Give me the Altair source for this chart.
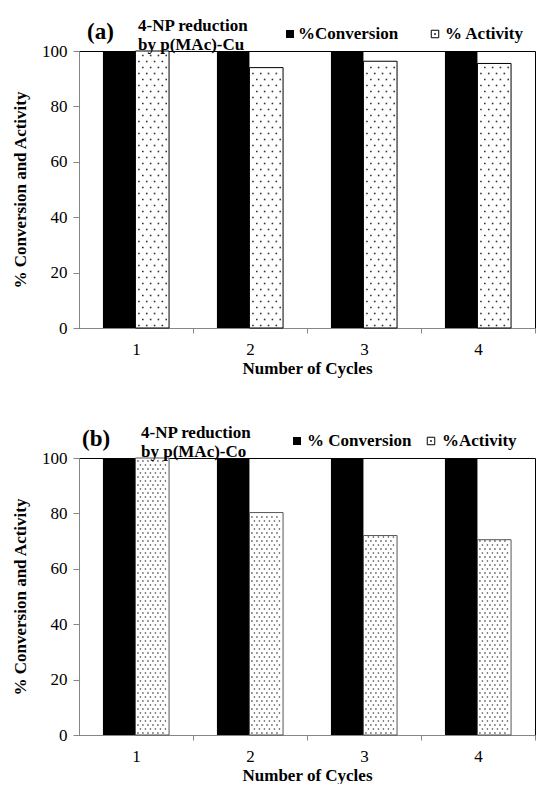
import altair as alt
import pandas as pd

# ---------------- data ----------------
cycles = [1, 2, 3, 4]
conversion_a = [100, 100, 100, 100]
activity_a = [100, 94.0, 96.3, 95.5]
conversion_b = [100, 100, 100, 100]
activity_b = [100, 80.3, 72.0, 70.5]

y_ticks = [0, 20, 40, 60, 80, 100]
series = ["%Conversion", "% Activity"]

FONT = "'Liberation Serif', 'Times New Roman', Times, serif"
H = 277
W = 456
BAR_L = -0.29
BAR_M = -0.005
BAR_R = 0.29


def bars_frame(conv, act):
    rows = []
    for c, v in zip(cycles, conv):
        rows.append({"cycle": c, "value": v, "series": "conv"})
    for c, v in zip(cycles, act):
        rows.append({"cycle": c, "value": v, "series": "act"})
    return pd.DataFrame(rows)


def dots_frame(act, sx, sy, x0, y0, width):
    ux = 4.0 / width
    uy = 100.0 / H
    bar_px = (BAR_R - BAR_M) / ux
    rows = []
    for c, v in zip(cycles, act):
        r = 0
        while True:
            yy = (y0 + r * sy) * uy
            if yy > v - 1.2 * uy:
                break
            shift = (r % 2) * sx / 2.0
            k = 0
            while True:
                xp = x0 + shift + k * sx
                if xp > bar_px - 1.5:
                    break
                rows.append({"dx": c + BAR_M + xp * ux, "dy": yy})
                k += 1
            r += 1
    return pd.DataFrame(rows)


def text_layer(t, x, y, size, weight="bold", align="left"):
    return alt.Chart(pd.DataFrame({"t": [t]})).mark_text(
        align=align, baseline="middle", font=FONT, fontSize=size,
        fontWeight=weight, color="black", lineBreak="\n", lineHeight=19
    ).encode(x=alt.value(x), y=alt.value(y), text="t:N")


def panel(conv, act, tag, subtitle, leg1, leg2, dot_cfg, act_stroke,
          pos, width):
    half = width / 8.0
    xax = alt.Axis(values=cycles, tickOffset=half, labelOffset=-half,
                   title="Number of Cycles", grid=False, labelAngle=0,
                   tickSize=5, labelPadding=8, titlePadding=3)
    yax = alt.Axis(values=y_ticks, title="% Conversion and Activity",
                   grid=False, tickSize=6, labelPadding=6,
                   titlePadding=12)
    xs = alt.Scale(domain=[0.5, 4.5], nice=False, zero=False)
    ys = alt.Scale(domain=[0, 100], nice=False)

    base = alt.Chart(bars_frame(conv, act))
    conv_bars = base.transform_filter("datum.series == 'conv'").transform_calculate(
        x0=f"datum.cycle + ({BAR_L})", x1=f"datum.cycle + ({BAR_M})"
    ).mark_bar(color="black").encode(
        x=alt.X("x0:Q", scale=xs, axis=xax),
        x2="x1:Q",
        y=alt.Y("value:Q", scale=ys, axis=yax),
        y2=alt.datum(0),
    )
    act_bars = base.transform_filter("datum.series == 'act'").transform_calculate(
        x0=f"datum.cycle + ({BAR_M})", x1=f"datum.cycle + ({BAR_R})"
    ).mark_bar(color="white", stroke=act_stroke, strokeWidth=1).encode(
        x=alt.X("x0:Q", scale=xs, axis=xax),
        x2="x1:Q",
        y=alt.Y("value:Q", scale=ys, axis=yax),
        y2=alt.datum(0),
    )
    sx, sy, x0, y0, dsize, dcol = dot_cfg
    dots = alt.Chart(dots_frame(act, sx, sy, x0, y0, width)).mark_square(
        size=dsize, color=dcol, opacity=1
    ).encode(
        x=alt.X("dx:Q", scale=xs, axis=xax),
        y=alt.Y("dy:Q", scale=ys, axis=yax),
    )

    leg_sq1 = alt.Chart(pd.DataFrame({"s": [series[0]]})).mark_square(
        size=64, color="black", opacity=1).encode(
        x=alt.value(pos["sq1"]), y=alt.value(-17))
    leg_sq2 = alt.Chart(pd.DataFrame({"s": [series[1]]})).mark_square(
        size=56, fill="white", stroke="black", strokeWidth=1, opacity=1).encode(
        x=alt.value(pos["sq2"]), y=alt.value(-17))
    leg_dot = alt.Chart(pd.DataFrame({"s": [series[1]]})).mark_square(
        size=3, color="black", opacity=1).encode(
        x=alt.value(pos["sq2"]), y=alt.value(-17))

    layers = [
        conv_bars, act_bars, dots,
        text_layer(tag, pos["tag"], -19, 23),
        text_layer(subtitle, pos["sub"], -25, 17),
        leg_sq1, leg_sq2, leg_dot,
        text_layer(leg1, pos["t1"], -17, 17),
        text_layer(leg2, pos["t2"], -17, 17),
    ]
    return alt.layer(*layers).properties(width=width, height=H)


pa = panel(conversion_a, activity_a, "(a)", "4-NP reduction\nby p(MAc)-Cu",
           "%Conversion", "% Activity",
           (7.8, 6.0, 3.5, 2.5, 2.6, "#333333"), "black",
           {"tag": 8, "sub": 59, "sq1": 211, "sq2": 356,
            "t1": 219, "t2": 366}, W)
pb = panel(conversion_b, activity_b, "(b)", "4-NP reduction\nby p(MAc)-Co",
           "% Conversion", "%Activity",
           (5.0, 4.0, 2.5, 2.0, 1.8, "#444444"), "#555555",
           {"tag": 3, "sub": 62, "sq1": 218, "sq2": 352,
            "t1": 228, "t2": 363}, W)

chart = alt.concat(pa, pb, columns=1, spacing=46).configure_view(
    stroke="black", strokeWidth=1
).configure_axis(
    domainColor="#868686", tickColor="#868686", labelColor="black",
    labelFont=FONT, labelFontSize=17, titleFont=FONT, titleFontSize=17,
    titleFontWeight="bold", titleColor="black"
).properties(
    padding={"left": 11, "top": 16, "right": 0, "bottom": 0}
)

chart.save("out.html", embed_options={"renderer": "svg", "actions": False})
